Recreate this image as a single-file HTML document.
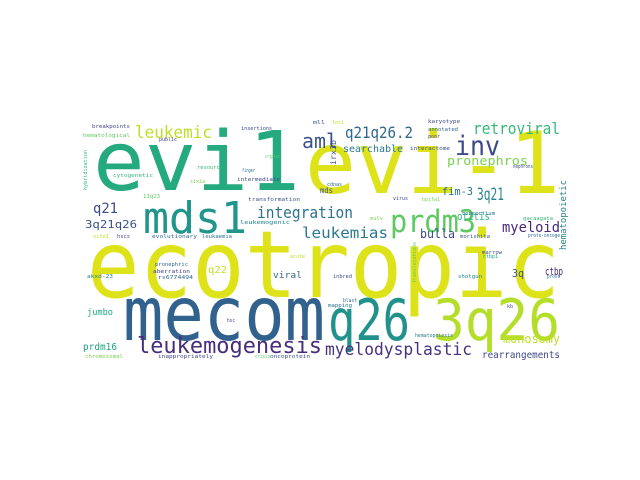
<!DOCTYPE html>
<html><head><meta charset="utf-8"><style>
html,body{margin:0;padding:0;background:#fff;width:640px;height:480px;overflow:hidden}
svg text{font-family:"DejaVu Sans Mono","Liberation Mono",monospace}
</style></head><body>
<svg width="640" height="480" viewBox="0 0 640 480" xmlns="http://www.w3.org/2000/svg">
<rect x="0" y="0" width="640" height="480" fill="#fff"/>
<g>
<text x="93" y="190" font-size="82" fill="#25a97f" textLength="207" lengthAdjust="spacingAndGlyphs">evi1</text>
<text x="305" y="193" font-size="86" fill="#dde318" textLength="255" lengthAdjust="spacingAndGlyphs">evi-1</text>
<text x="87" y="297" font-size="93" fill="#dde318" textLength="473" lengthAdjust="spacingAndGlyphs">ecotropic</text>
<text x="123" y="340" font-size="75" fill="#31618d" textLength="202" lengthAdjust="spacingAndGlyphs">mecom</text>
<text x="328" y="340" font-size="57" fill="#21918c" textLength="82" lengthAdjust="spacingAndGlyphs">q26</text>
<text x="433" y="340" font-size="57" fill="#b5de2b" textLength="127" lengthAdjust="spacingAndGlyphs">3q26</text>
<text x="143" y="233" font-size="44" fill="#1f958b" textLength="104" lengthAdjust="spacingAndGlyphs">mds1</text>
<text x="390" y="232" font-size="31" fill="#5ec962" textLength="86" lengthAdjust="spacingAndGlyphs">prdm3</text>
<text x="137" y="353" font-size="22" fill="#472d7b" textLength="185" lengthAdjust="spacingAndGlyphs">leukemogenesis</text>
<text x="325" y="355" font-size="17" fill="#46327e" textLength="147" lengthAdjust="spacingAndGlyphs">myelodysplastic</text>
<text x="135" y="138" font-size="17" fill="#bddf26" textLength="77" lengthAdjust="spacingAndGlyphs">leukemic</text>
<text x="302" y="148" font-size="20" fill="#3b528b" textLength="36" lengthAdjust="spacingAndGlyphs">aml</text>
<text x="345" y="138" font-size="16" fill="#31688e" textLength="68" lengthAdjust="spacingAndGlyphs">q21q26.2</text>
<text x="455" y="155" font-size="27" fill="#3e4a89" textLength="45" lengthAdjust="spacingAndGlyphs">inv</text>
<text x="473" y="134" font-size="16" fill="#35b779" textLength="87" lengthAdjust="spacingAndGlyphs">retroviral</text>
<text x="257" y="218" font-size="16" fill="#2c728e" textLength="96" lengthAdjust="spacingAndGlyphs">integration</text>
<text x="447" y="165" font-size="12" fill="#7ad151" textLength="81" lengthAdjust="spacingAndGlyphs">pronephros</text>
<text x="343" y="152" font-size="10" fill="#2a788e" textLength="60" lengthAdjust="spacingAndGlyphs">searchable</text>
<text x="302" y="238" font-size="15" fill="#2a788e" textLength="86" lengthAdjust="spacingAndGlyphs">leukemias</text>
<text x="502" y="232" font-size="14" fill="#482878" textLength="58" lengthAdjust="spacingAndGlyphs">myeloid</text>
<text x="477" y="200" font-size="17" fill="#26828e" textLength="27" lengthAdjust="spacingAndGlyphs">3q21</text>
<text x="442" y="195" font-size="11" fill="#2c728e" textLength="31" lengthAdjust="spacingAndGlyphs">fim-3</text>
<text x="420" y="238" font-size="12" fill="#3e4989" textLength="35" lengthAdjust="spacingAndGlyphs">bulla</text>
<text x="457" y="220" font-size="11" fill="#29af7f" textLength="33" lengthAdjust="spacingAndGlyphs">otitis</text>
<text x="545" y="275" font-size="11" fill="#482878" textLength="18" lengthAdjust="spacingAndGlyphs">ctbp</text>
<text x="512" y="277" font-size="11" fill="#3b528b" textLength="12" lengthAdjust="spacingAndGlyphs">3q</text>
<text x="503" y="343" font-size="12" fill="#bddf26" textLength="57" lengthAdjust="spacingAndGlyphs">monosomy</text>
<text x="482" y="358" font-size="10" fill="#3f4788" textLength="78" lengthAdjust="spacingAndGlyphs">rearrangements</text>
<text x="93" y="213" font-size="14" fill="#3e4989" textLength="25" lengthAdjust="spacingAndGlyphs">q21</text>
<text x="85" y="228" font-size="11" fill="#3b528b" textLength="52" lengthAdjust="spacingAndGlyphs">3q21q26</text>
<text x="87" y="315" font-size="9" fill="#22a884" textLength="26" lengthAdjust="spacingAndGlyphs">jumbo</text>
<text x="83" y="350" font-size="10" fill="#20a486" textLength="34" lengthAdjust="spacingAndGlyphs">prdm16</text>
<text x="273" y="278" font-size="9" fill="#31688e" textLength="29" lengthAdjust="spacingAndGlyphs">viral</text>
<text x="208" y="273" font-size="10" fill="#c2df23" textLength="19" lengthAdjust="spacingAndGlyphs">q22</text>
<text x="320" y="193" font-size="8" fill="#3b528b" textLength="13" lengthAdjust="spacingAndGlyphs">mds</text>
<text x="415" y="337" font-size="5" fill="#2c728e" textLength="38" lengthAdjust="spacingAndGlyphs">hematopoiesis</text>
<text x="333" y="278" font-size="5" fill="#3e4989" textLength="19" lengthAdjust="spacingAndGlyphs">inbred</text>
<text x="343" y="302" font-size="5" fill="#31688e" textLength="14" lengthAdjust="spacingAndGlyphs">blast</text>
<text x="328" y="307" font-size="5" fill="#2c728e" textLength="24" lengthAdjust="spacingAndGlyphs">mapping</text>
<text x="458" y="278" font-size="5" fill="#26828e" textLength="24" lengthAdjust="spacingAndGlyphs">shotgun</text>
<text x="158" y="358" font-size="5" fill="#414487" textLength="55" lengthAdjust="spacingAndGlyphs">inappropriately</text>
<text x="85" y="358" font-size="5" fill="#7ad151" textLength="38" lengthAdjust="spacingAndGlyphs">chromosomal</text>
<text x="270" y="358" font-size="5" fill="#3b528b" textLength="40" lengthAdjust="spacingAndGlyphs">oncoprotein</text>
<text x="255" y="358" font-size="5" fill="#5ec962" textLength="15" lengthAdjust="spacingAndGlyphs">crisis</text>
<text x="155" y="266" font-size="5" fill="#31688e" textLength="33" lengthAdjust="spacingAndGlyphs">pronephric</text>
<text x="153" y="273" font-size="5" fill="#443983" textLength="37" lengthAdjust="spacingAndGlyphs">aberration</text>
<text x="158" y="279" font-size="5" fill="#31688e" textLength="35" lengthAdjust="spacingAndGlyphs">rs6774494</text>
<text x="87" y="278" font-size="5" fill="#26828e" textLength="26" lengthAdjust="spacingAndGlyphs">akxd-23</text>
<text x="92" y="128" font-size="5" fill="#414487" textLength="38" lengthAdjust="spacingAndGlyphs">breakpoints</text>
<text x="83" y="137" font-size="5" fill="#5ec962" textLength="47" lengthAdjust="spacingAndGlyphs">hematological</text>
<text x="113" y="177" font-size="5" fill="#35b779" textLength="40" lengthAdjust="spacingAndGlyphs">cytogenetic</text>
<text x="237" y="181" font-size="5" fill="#3e4989" textLength="43" lengthAdjust="spacingAndGlyphs">intermediate</text>
<text x="248" y="201" font-size="5" fill="#3b528b" textLength="52" lengthAdjust="spacingAndGlyphs">transformation</text>
<text x="240" y="224" font-size="5" fill="#26828e" textLength="50" lengthAdjust="spacingAndGlyphs">leukemogenic</text>
<text x="152" y="238" font-size="5" fill="#31688e" textLength="45" lengthAdjust="spacingAndGlyphs">evolutionary</text>
<text x="117" y="238" font-size="5" fill="#3e4989" textLength="13" lengthAdjust="spacingAndGlyphs">hscs</text>
<text x="202" y="238" font-size="5" fill="#2c728e" textLength="30" lengthAdjust="spacingAndGlyphs">leukaemia</text>
<text x="93" y="238" font-size="5" fill="#bddf26" textLength="16" lengthAdjust="spacingAndGlyphs">site1</text>
<text x="265" y="158" font-size="5" fill="#5ec962" textLength="15" lengthAdjust="spacingAndGlyphs">cryptic</text>
<text x="242" y="172" font-size="5" fill="#2a788e" textLength="13" lengthAdjust="spacingAndGlyphs">finger</text>
<text x="197" y="169" font-size="5" fill="#35b779" textLength="26" lengthAdjust="spacingAndGlyphs">resource</text>
<text x="241" y="130" font-size="5" fill="#3e4989" textLength="31" lengthAdjust="spacingAndGlyphs">insertions</text>
<text x="159" y="141" font-size="5" fill="#414487" textLength="18" lengthAdjust="spacingAndGlyphs">public</text>
<text x="190" y="183" font-size="5" fill="#7ad151" textLength="15" lengthAdjust="spacingAndGlyphs">sixia</text>
<text x="143" y="198" font-size="5" fill="#5ec962" textLength="17" lengthAdjust="spacingAndGlyphs">11q23</text>
<text x="428" y="123" font-size="5" fill="#3e4989" textLength="32" lengthAdjust="spacingAndGlyphs">karyotype</text>
<text x="428" y="131" font-size="5" fill="#31688e" textLength="30" lengthAdjust="spacingAndGlyphs">annotated</text>
<text x="428" y="138" font-size="5" fill="#414487" textLength="12" lengthAdjust="spacingAndGlyphs">poor</text>
<text x="410" y="150" font-size="5" fill="#3b528b" textLength="40" lengthAdjust="spacingAndGlyphs">interactome</text>
<text x="313" y="124" font-size="5" fill="#3e4989" textLength="12" lengthAdjust="spacingAndGlyphs">mll</text>
<text x="332" y="124" font-size="5" fill="#bddf26" textLength="12" lengthAdjust="spacingAndGlyphs">loci</text>
<text x="327" y="186" font-size="5" fill="#31688e" textLength="15" lengthAdjust="spacingAndGlyphs">cdnas</text>
<text x="393" y="200" font-size="5" fill="#3e4989" textLength="15" lengthAdjust="spacingAndGlyphs">virus</text>
<text x="422" y="201" font-size="5" fill="#7ad151" textLength="18" lengthAdjust="spacingAndGlyphs">bpifa1</text>
<text x="370" y="220" font-size="5" fill="#7ad151" textLength="13" lengthAdjust="spacingAndGlyphs">mulv</text>
<text x="462" y="215" font-size="5" fill="#2c728e" textLength="33" lengthAdjust="spacingAndGlyphs">consortium</text>
<text x="523" y="220" font-size="5" fill="#35b779" textLength="30" lengthAdjust="spacingAndGlyphs">gacaagata</text>
<text x="460" y="238" font-size="5" fill="#3b528b" textLength="30" lengthAdjust="spacingAndGlyphs">morishita</text>
<text x="528" y="237" font-size="5" fill="#31688e" textLength="32" lengthAdjust="spacingAndGlyphs">proto-oncoge</text>
<text x="513" y="168" font-size="5" fill="#3e4989" textLength="20" lengthAdjust="spacingAndGlyphs">nephrons</text>
<text x="290" y="258" font-size="5" fill="#bddf26" textLength="15" lengthAdjust="spacingAndGlyphs">acute</text>
<text x="482" y="254" font-size="5" fill="#3e4989" textLength="20" lengthAdjust="spacingAndGlyphs">marrow</text>
<text x="483" y="258" font-size="5" fill="#20a486" textLength="15" lengthAdjust="spacingAndGlyphs">ctbp1</text>
<text x="547" y="278" font-size="5" fill="#2c728e" textLength="13" lengthAdjust="spacingAndGlyphs">provi</text>
<text x="507" y="308" font-size="5" fill="#3e4989" textLength="6" lengthAdjust="spacingAndGlyphs">kb</text>
<text x="227" y="322" font-size="5" fill="#414487" textLength="8" lengthAdjust="spacingAndGlyphs">hsc</text>
<text x="0" y="0" font-size="9" fill="#26828e" textLength="70" lengthAdjust="spacingAndGlyphs" transform="translate(566,250) rotate(-90)">hematopoietic</text>
<text x="0" y="0" font-size="5" fill="#5ec962" textLength="41" lengthAdjust="spacingAndGlyphs" transform="translate(416,283) rotate(-90)">translocations</text>
<text x="0" y="0" font-size="8" fill="#3b528b" textLength="25" lengthAdjust="spacingAndGlyphs" transform="translate(336,165) rotate(-90)">irx3b</text>
<text x="0" y="0" font-size="5" fill="#35b779" textLength="40" lengthAdjust="spacingAndGlyphs" transform="translate(87,190) rotate(-90)">hybridization</text>
</g>
</svg>
</body></html>
